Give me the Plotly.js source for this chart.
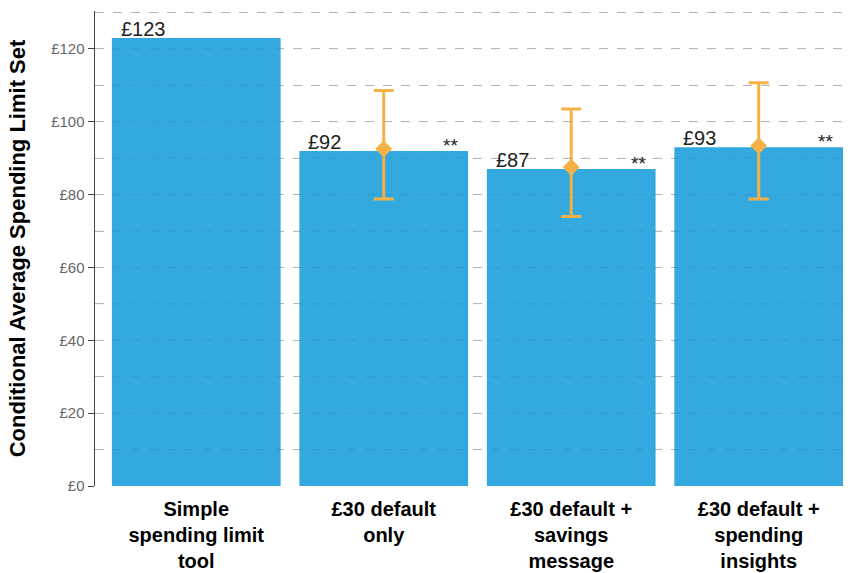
<!DOCTYPE html>
<html>
<head>
<meta charset="utf-8">
<script src="https://cdn.plot.ly/plotly-3.0.1.min.js"></script>
<style>html,body{margin:0;padding:0;background:#fff;}#chart{width:856px;height:573px;}</style>
</head>
<body>
<div id="chart"></div>
<script>
const categories = ["Simple<br>spending limit<br>tool", "£30 default<br>only", "£30 default +<br>savings<br>message", "£30 default +<br>spending<br>insights"];
const values = [123, 92, 87, 93];
const valueLabels = ["£123", "£92", "£87", "£93"];
const sigLabels = ["", "**", "**", "**"];
const errIdx = [1, 2, 3];
const errMean = [92.5, 87.5, 93.4];
const errUpper = [108.6, 103.5, 110.7];
const errLower = [78.8, 74.0, 78.8];
const yTickVals = [0, 20, 40, 60, 80, 100, 120];
const yTickText = ["£0", "£20", "£40", "£60", "£80", "£100", "£120"];
const gridVals = [10, 20, 30, 40, 50, 60, 70, 80, 90, 100, 110, 120, 130];

const barColor = "#33A9E0";
const errColor = "#F6B146";
const fontFam = "Liberation Sans, Arial, sans-serif";

const bars = {
  type: "bar", x: [0,1,2,3], y: values, width: 0.9,
  marker: {color: barColor}, hoverinfo: "skip"
};
const errs = {
  type: "scatter", mode: "markers", x: errIdx, y: errMean,
  marker: {symbol: "diamond", size: 13, color: errColor},
  error_y: {type: "data", symmetric: false,
    array: errUpper.map((u,i)=>u-errMean[i]),
    arrayminus: errMean.map((m,i)=>m-errLower[i]),
    color: errColor, thickness: 3, width: 10},
  hoverinfo: "skip"
};

const annotations = [];
values.forEach((v,i)=>{
  annotations.push({x: i-0.45, y: v, xref: "x", yref: "y", text: valueLabels[i],
    showarrow: false, xanchor: "left", yanchor: "bottom", xshift: 7, yshift: -4,
    font: {family: fontFam, size: 20, color: "#222"}});
  if (sigLabels[i]) annotations.push({x: i+0.45, y: v, xref: "x", yref: "y", text: sigLabels[i],
    showarrow: false, xanchor: "right", yanchor: "bottom", xshift: -8, yshift: -7,
    font: {family: fontFam, size: 19, color: "#222"}});
});

const shapes = gridVals.map(g => ({
  type: "line", xref: "paper", yref: "y", x0: 0, x1: 1, y0: g, y1: g, layer: "above",
  line: {color: "rgba(60,60,60,0.12)", width: 1, dash: "dash"}
}));

const layout = {
  width: 856, height: 573,
  margin: {l: 95, r: 6, t: 11, b: 87},
  paper_bgcolor: "#fff", plot_bgcolor: "#fff",
  showlegend: false, bargap: 0.1,
  font: {family: fontFam},
  xaxis: {
    range: [-0.54, 3.487], tickmode: "array", tickvals: [0,1,2,3], ticktext: categories,
    showgrid: false, zeroline: false, showline: false, ticks: "",
    ticklabelstandoff: 9,
    tickfont: {size: 20, color: "#000", weight: "bold"}
  },
  yaxis: {
    range: [0, 130.4], tickmode: "array", tickvals: yTickVals, ticktext: yTickText,
    showgrid: true, gridcolor: "#c4c4c4", griddash: "dash", gridwidth: 1,
    minor: {tickmode: "array", tickvals: gridVals, showgrid: true, gridcolor: "#c4c4c4", griddash: "dash", gridwidth: 1, ticks: ""},
    zeroline: false, showline: true, linecolor: "#444", linewidth: 1.5,
    ticks: "outside", ticklen: 6, tickcolor: "#444",
    tickfont: {size: 15, color: "#666"},
    title: {text: "Conditional Average Spending Limit Set", font: {size: 22, color: "#000", weight: "bold"}, standoff: 19}
  },
  shapes: shapes,
  annotations: annotations
};

Plotly.newPlot("chart", [bars, errs], layout, {displayModeBar: false, staticPlot: true});
</script>
</body>
</html>
